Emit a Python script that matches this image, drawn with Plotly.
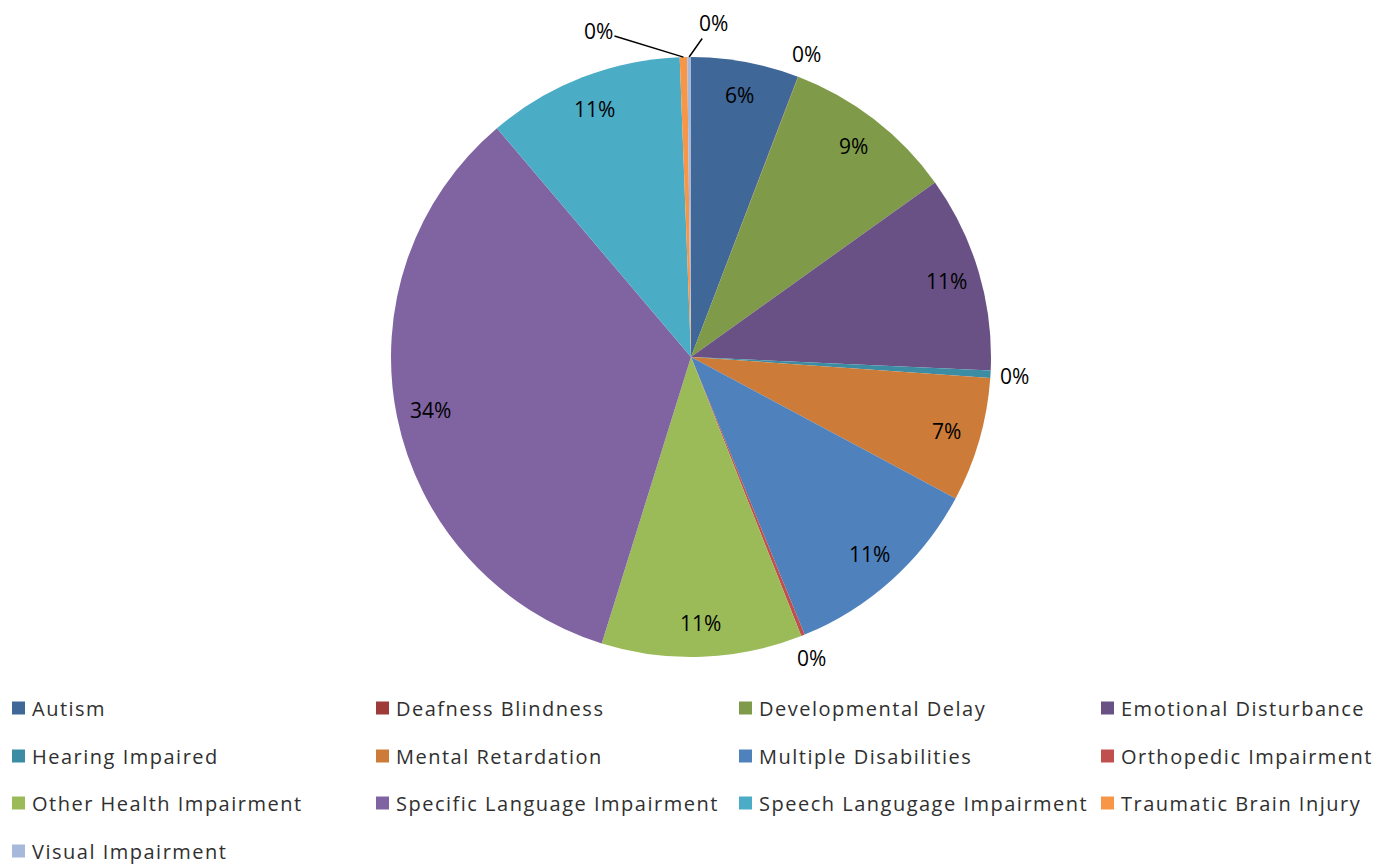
import math
import plotly.graph_objects as go

labels = ["Autism", "Deafness Blindness", "Developmental Delay", "Emotional Disturbance",
          "Hearing Impaired", "Mental Retardation", "Multiple Disabilities", "Orthopedic Impairment",
          "Other Health Impairment", "Specific Language Impairment", "Speech Langugage Impairment",
          "Traumatic Brain Injury", "Visual Impairment"]
values = [5.8, 0.02, 9.3, 10.6, 0.4, 6.7, 11.0, 0.2, 10.8, 34.0, 10.6, 0.4, 0.2]
colors = ["#3F6797", "#9E3B38", "#7F9A48", "#695185", "#3C8DA3", "#CC7B38", "#4F81BD",
          "#C0504D", "#9BBB59", "#8064A2", "#4BACC6", "#F79646", "#A7B9DA"]

W, H = 1383, 865
FONT = "Open Sans"
CX, CY, R = 691, 357, 300  # pie centre / radius in pixels

fig = go.Figure(go.Pie(
    labels=labels, values=values, sort=False, direction="clockwise", rotation=0,
    marker=dict(colors=colors, line=dict(color="white", width=0)),
    textinfo="none", hoverinfo="label+percent",
    showlegend=False,
    domain=dict(x=[(CX - R) / W, (CX + R) / W], y=[1 - (CY + R) / H, 1 - (CY - R) / H]),
))

def px(x, y):
    return x / W, 1 - y / H

# data labels (Excel "best fit" style): inside near rim, small slices outside
callouts = {"Traumatic Brain Injury": (-85, -26), "Visual Impairment": (24, -34)}
total = sum(values)
annotations = []
cum = 0.0
for lab, v in zip(labels, values):
    mid = (cum + v / 2) / total * 2 * math.pi
    cum += v
    txt = f"{round(v / total * 100)}%"
    sx, sy = math.sin(mid), -math.cos(mid)
    if lab in callouts:
        ax, ay = callouts[lab]
        x, y = px(CX + sx * R, CY + sy * R)
        annotations.append(dict(xref="paper", yref="paper", x=x, y=y, ax=ax, ay=ay,
                                showarrow=True, arrowhead=0, arrowwidth=1.5, arrowcolor="black",
                                text=txt, font=dict(family=FONT, size=21, color="black")))
    else:
        rr = 266 if v / total >= 0.01 else 324
        x, y = px(CX + sx * rr, CY + sy * rr)
        annotations.append(dict(xref="paper", yref="paper", x=x, y=y, showarrow=False,
                                xanchor="center", yanchor="middle", text=txt,
                                font=dict(family=FONT, size=21, color="black")))

# manual legend, 4 columns
col_x = [12, 376, 739, 1101]
row_y = [708, 756, 803, 851]
shapes = []
for i, (lab, col) in enumerate(zip(labels, colors)):
    r, c = divmod(i, 4)
    x0 = col_x[c]
    yc = row_y[r]
    shapes.append(dict(type="rect", xref="paper", yref="paper",
                       x0=x0 / W, x1=(x0 + 13) / W,
                       y0=1 - (yc + 6.5) / H, y1=1 - (yc - 6.5) / H,
                       fillcolor=col, line=dict(width=0)))
    annotations.append(dict(xref="paper", yref="paper", x=(x0 + 18) / W, y=1 - yc / H,
                            xanchor="left", yanchor="middle", showarrow=False,
                            text=f'<span style="letter-spacing:1.5px">{lab}</span>',
                            font=dict(family=FONT, size=20, color="#303030")))

fig.update_layout(width=W, height=H, margin=dict(l=0, r=0, t=0, b=0),
                  paper_bgcolor="white", plot_bgcolor="white",
                  shapes=shapes, annotations=annotations)
fig.write_html("out.html", config={"displayModeBar": False},
               post_script="document.body.style.margin='0';")
